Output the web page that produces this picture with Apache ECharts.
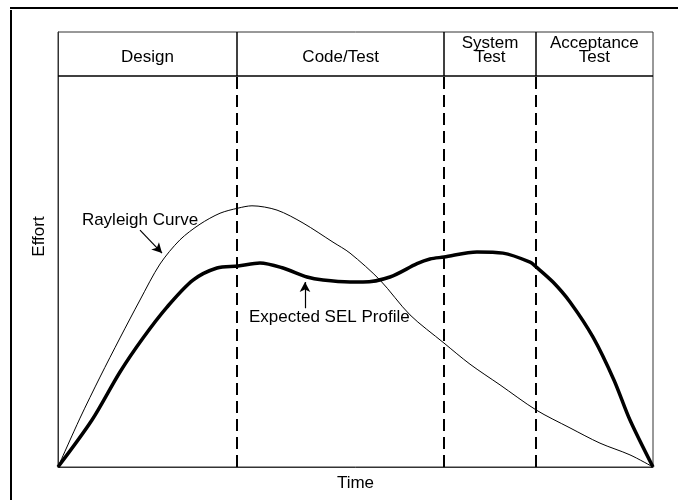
<!DOCTYPE html>
<html>
<head>
<meta charset="utf-8">
<script src="https://cdn.jsdelivr.net/npm/echarts@6/dist/echarts.min.js"></script>
<style>html,body{margin:0;padding:0;background:#fff;}#c{width:678px;height:500px;}</style>
</head>
<body>
<div id="c"></div>
<script>
// Phases (header) — x in % of time
const phaseNames = ['Design', 'Code/Test', 'System\nTest', 'Acceptance\nTest'];
const phaseBounds = [0, 30.1, 64.9, 80.3, 100];
const headerTop = 111.25; // header band above effort scale (0..100)

// Rayleigh curve (thin)
const rayleighX = [0, 3.7, 7.06, 10.42, 13.78, 17.14, 20.5, 23.87, 27.23, 30.25, 32.6, 36.81, 41.18, 46.22, 49.08, 54.12, 59.16, 64.87, 69.24, 74.29, 80.34, 86.05, 91.09, 96.13, 100];
const rayleighY = [0, 12.5, 23.0, 33.0, 42.7, 51.9, 58.1, 62.1, 64.9, 66.2, 66.8, 65.7, 62.4, 57.5, 54.7, 47.8, 38.9, 31.7, 26.3, 21.0, 14.6, 10.0, 6.1, 3.1, 0];

// Expected SEL profile (thick)
const selX = [0, 5.71, 10.42, 14.29, 18.32, 22.69, 26.72, 30.25, 33.95, 37.82, 41.85, 44.54, 49.08, 51.26, 55.8, 60.34, 62.52, 64.87, 70.42, 74.79, 79.33, 80.34, 83.19, 86.05, 89.92, 93.45, 96.13, 100];
const selY = [0, 12.0, 24.3, 33.0, 40.9, 47.8, 50.9, 51.4, 52.2, 50.9, 48.6, 47.8, 47.3, 47.3, 48.6, 52.0, 53.2, 53.7, 55.0, 54.7, 52.4, 51.2, 47.3, 42.2, 33.2, 22.2, 12.0, 0];

// Annotations (data units)
const rayleighLabel = {text: 'Rayleigh Curve', at: [13.78, 63.2], arrowFrom: [13.78, 60.6], arrowTo: [17.48, 54.7]};
const selLabel = {text: 'Expected SEL Profile', at: [45.6, 38.4], arrowFrom: [41.51, 40.6], arrowTo: [41.51, 47.3]};

const FONT = 'Liberation Sans, Arial, sans-serif';
const FS = 17;
const chart = echarts.init(document.getElementById('c'), null, {renderer: 'canvas'});

const dividerLines = [];
for (let i = 1; i < phaseBounds.length - 1; i++) {
  dividerLines.push([{coord: [phaseBounds[i], 0], lineStyle: {type: [12, 6], width: 2, color: '#000'}}, {coord: [phaseBounds[i], 100]}]);
  dividerLines.push([{coord: [phaseBounds[i], 100], lineStyle: {type: 'solid', width: 1.5, color: '#000'}}, {coord: [phaseBounds[i], headerTop]}]);
}
dividerLines.push([{coord: [0, 100], lineStyle: {type: 'solid', width: 1.5, color: '#000'}}, {coord: [100, 100]}]);

const headerAreas = phaseNames.map((n, i) => [
  {name: n, coord: [phaseBounds[i], 100]},
  {coord: [phaseBounds[i + 1], headerTop]}
]);

function labelPoint(l) {
  return {coord: l.at, value: l.text, symbol: 'rect', symbolSize: 1, itemStyle: {color: 'rgba(0,0,0,0)'},
    label: {show: true, position: 'inside', formatter: l.text, color: '#000', fontSize: FS, fontFamily: FONT}};
}

chart.setOption({
  animation: false,
  backgroundColor: '#fff',
  grid: {left: 58, right: 25, top: 32, bottom: 33, show: true, borderColor: '#333', borderWidth: 1},
  xAxis: {
    type: 'value', min: 0, max: 100,
    name: 'Time', nameLocation: 'middle', nameGap: 8,
    nameTextStyle: {fontSize: FS, fontFamily: FONT, color: '#000', verticalAlign: 'top'},
    axisLine: {show: true, lineStyle: {color: '#333', width: 1}},
    axisTick: {show: false}, axisLabel: {show: false}, splitLine: {show: false}
  },
  yAxis: {
    type: 'value', min: 0, max: headerTop,
    name: 'Effort', nameLocation: 'middle', nameGap: 10, nameRotate: 90,
    nameTextStyle: {fontSize: FS, fontFamily: FONT, color: '#000', padding: [0, 0, 0, 26]},
    axisLine: {show: true, lineStyle: {color: '#333', width: 1}},
    axisTick: {show: false}, axisLabel: {show: false}, splitLine: {show: false}
  },
  graphic: [
    {type: 'line', shape: {x1: 10, y1: 8, x2: 678, y2: 8}, style: {stroke: '#000', lineWidth: 2}},
    {type: 'line', shape: {x1: 11, y1: 10, x2: 11, y2: 500}, style: {stroke: '#000', lineWidth: 2}}
  ],
  series: [
    {
      name: 'Rayleigh Curve', type: 'line', smooth: 0.3, showSymbol: false, symbol: 'none',
      data: rayleighX.map((x, i) => [x, rayleighY[i]]),
      lineStyle: {color: '#000', width: 1}, z: 3,
      markLine: {
        silent: true, symbol: ['none', 'none'], label: {show: false},
        lineStyle: {color: '#000'},
        data: dividerLines
      },
      markArea: {
        silent: true, itemStyle: {color: 'rgba(0,0,0,0)'},
        label: {show: true, position: 'insideBottom', distance: 12, color: '#000', fontSize: FS, fontFamily: FONT, lineHeight: 14, align: 'center'},
        data: headerAreas
      },
      markPoint: {silent: true, data: [labelPoint(rayleighLabel)]}
    },
    {
      name: 'Expected SEL Profile', type: 'line', smooth: 0.3, showSymbol: false, symbol: 'none',
      data: selX.map((x, i) => [x, selY[i]]),
      lineStyle: {color: '#000', width: 3.5}, z: 4,
      markLine: {
        silent: true, symbol: ['none', 'arrow'], symbolSize: [8, 10], label: {show: false},
        lineStyle: {color: '#000', width: 1.2, type: 'solid'},
        data: [
          [{coord: rayleighLabel.arrowFrom}, {coord: rayleighLabel.arrowTo}],
          [{coord: selLabel.arrowFrom}, {coord: selLabel.arrowTo}]
        ]
      },
      markPoint: {silent: true, data: [labelPoint(selLabel)]}
    }
  ]
});
</script>
</body>
</html>
